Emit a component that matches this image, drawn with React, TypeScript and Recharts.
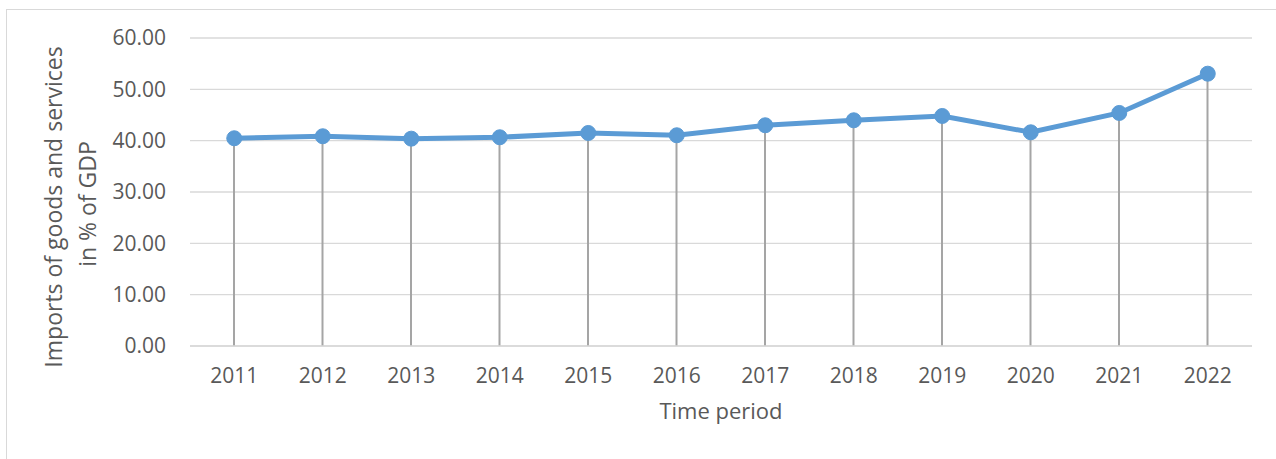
import React from "react";
import { ComposedChart, Line, Bar, XAxis, YAxis, CartesianGrid, Label } from "recharts";

const years = ["2011", "2012", "2013", "2014", "2015", "2016", "2017", "2018", "2019", "2020", "2021", "2022"];
const imports = [40.47, 40.86, 40.39, 40.66, 41.5, 41.05, 43.0, 43.97, 44.81, 41.63, 45.4, 53.05];
const yTicks = [0, 10, 20, 30, 40, 50, 60];
const yTitleLines = ["Imports of goods and services", "in % of GDP"];
const xTitle = "Time period";

const data = years.map((y, i) => ({ year: y, value: imports[i] }));

const FONT = "'Open Sans', sans-serif";
const TEXT = "#595959";

export default function App() {
  return (
    <div style={{ position: "absolute", left: 0, top: 0, width: 1276, height: 459, overflow: "hidden", background: "#fff" }}>
      <div
        style={{
          position: "absolute",
          left: 6,
          top: 9,
          width: 1400,
          height: 600,
          borderTop: "1px solid #d9d9d9",
          borderLeft: "1px solid #d9d9d9",
        }}
      />
      <div style={{ position: "absolute", left: 0, top: 0 }}>
        <ComposedChart
          width={1276}
          height={459}
          data={data}
          margin={{ top: 38, right: 24, left: 0, bottom: 53 }}
          style={{ fontFamily: FONT }}
        >
          <CartesianGrid vertical={false} stroke="#d9d9d9" strokeWidth={1.4} />
          <XAxis
            dataKey="year"
            height={60}
            tickLine={false}
            axisLine={{ stroke: "#d9d9d9", strokeWidth: 1.4 }}
            tickSize={0}
            tickMargin={22}
            tick={{ fill: TEXT, fontSize: 21, fontFamily: FONT }}
            interval={0}
          >
            <Label
              content={() => (
                <text x={721} y={419} textAnchor="middle" fill={TEXT} fontSize={22} fontFamily={FONT}>
                  {xTitle}
                </text>
              )}
            />
          </XAxis>
          <YAxis
            width={190}
            domain={[0, 60]}
            ticks={yTicks}
            tickFormatter={(v: number) => v.toFixed(2)}
            tickLine={false}
            axisLine={false}
            tickSize={0}
            tickMargin={24}
            tick={{ fill: TEXT, fontSize: 21, fontFamily: FONT }}
          >
            <Label
              content={() => (
                <g>
                  <text
                    x={62}
                    y={207}
                    transform="rotate(-90 62 207)"
                    textAnchor="middle"
                    fill={TEXT}
                    fontSize={23}
                    fontFamily={FONT}
                  >
                    {yTitleLines[0]}
                  </text>
                  <text
                    x={96}
                    y={204}
                    transform="rotate(-90 96 204)"
                    textAnchor="middle"
                    fill={TEXT}
                    fontSize={23}
                    fontFamily={FONT}
                  >
                    {yTitleLines[1]}
                  </text>
                </g>
              )}
            />
          </YAxis>
          <Line
            dataKey="value"
            stroke="#5b9bd5"
            strokeWidth={5}
            dot={{ r: 7.5, fill: "#5b9bd5", stroke: "#5b9bd5", strokeWidth: 1 }}
            activeDot={false}
            isAnimationActive={false}
          />
          <Bar dataKey="value" barSize={2} fill="#a5a5a5" isAnimationActive={false} />
        </ComposedChart>
      </div>
    </div>
  );
}
